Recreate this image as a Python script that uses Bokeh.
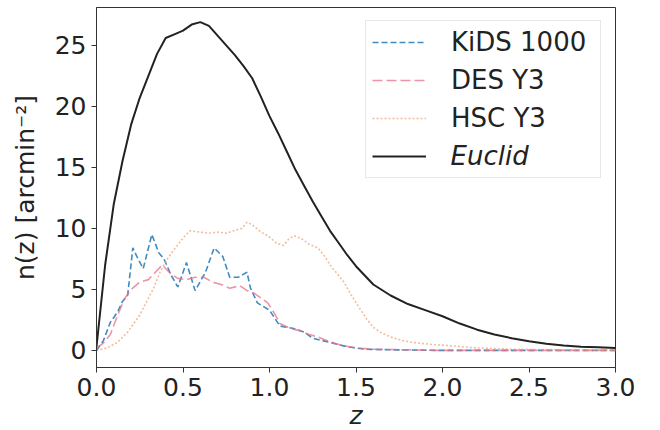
from bokeh.plotting import figure
from bokeh.models import Range1d, Legend, LegendItem, FixedTicker, PrintfTickFormatter, Label
from bokeh.embed import file_html
from bokeh.resources import INLINE

# ---- data ----
z_kids = [0.0, 0.04, 0.08, 0.12, 0.15, 0.18, 0.21, 0.24, 0.27, 0.32, 0.36, 0.39, 0.43, 0.47,
          0.52, 0.57, 0.63, 0.68, 0.73, 0.77, 0.82, 0.87, 0.89, 0.93, 1.0, 1.06, 1.14, 1.2,
          1.25, 1.35, 1.45, 1.55, 1.7, 2.0, 3.0]
n_kids = [0.0, 0.8, 2.3, 3.1, 4.0, 4.5, 8.4, 7.5, 6.7, 9.5, 8.0, 7.5, 6.2, 5.2,
          7.2, 4.9, 6.4, 8.4, 7.7, 6.0, 6.0, 6.4, 5.1, 3.9, 3.3, 2.0, 1.8, 1.5,
          1.0, 0.65, 0.3, 0.1, 0.05, 0.0, 0.0]

z_des = [0.0, 0.04, 0.08, 0.12, 0.16, 0.2, 0.25, 0.3, 0.34, 0.38, 0.42, 0.47, 0.52, 0.57,
         0.62, 0.67, 0.72, 0.77, 0.83, 0.87, 0.91, 0.95, 0.99, 1.03, 1.06, 1.12, 1.18, 1.23,
         1.28, 1.35, 1.42, 1.5, 1.6, 1.8, 2.0, 3.0]
n_des = [0.2, 0.6, 1.3, 2.8, 4.2, 5.0, 5.6, 5.8, 6.4, 7.0, 6.4, 5.9, 5.8, 6.0,
         6.0, 5.6, 5.4, 5.1, 5.3, 4.9, 4.7, 4.3, 3.9, 3.0, 2.2, 1.8, 1.6, 1.3,
         1.1, 0.7, 0.4, 0.2, 0.1, 0.05, 0.0, 0.0]

z_hsc = [0.0, 0.06, 0.12, 0.18, 0.25, 0.29, 0.33, 0.37, 0.41, 0.45, 0.5, 0.54, 0.6, 0.65,
         0.7, 0.75, 0.79, 0.84, 0.87, 0.9, 0.95, 0.99, 1.04, 1.08, 1.11, 1.14, 1.18, 1.23,
         1.28, 1.32, 1.35, 1.39, 1.43, 1.47, 1.51, 1.56, 1.6, 1.64, 1.7, 1.77, 1.83, 1.93,
         2.03, 2.2, 2.4, 2.7, 3.0]
n_hsc = [0.0, 0.2, 0.65, 1.5, 2.9, 4.0, 5.1, 6.5, 7.5, 8.3, 9.2, 9.8, 9.7, 9.6,
         9.7, 9.6, 9.8, 10.0, 10.5, 10.3, 9.7, 9.4, 8.8, 8.6, 9.1, 9.4, 9.2, 8.7,
         8.4, 7.7, 7.0, 6.3, 5.6, 4.6, 3.7, 2.6, 1.9, 1.5, 1.1, 0.8, 0.65, 0.5,
         0.4, 0.2, 0.1, 0.05, 0.0]

z_euclid = [0.0, 0.05, 0.1, 0.15, 0.2, 0.25, 0.3, 0.35, 0.4, 0.45, 0.5, 0.55, 0.6, 0.65,
            0.7, 0.75, 0.8, 0.85, 0.9, 0.95, 1.0, 1.05, 1.1, 1.15, 1.2, 1.25, 1.3, 1.35,
            1.4, 1.45, 1.5, 1.6, 1.7, 1.8, 1.9, 2.0, 2.1, 2.2, 2.3, 2.4, 2.5, 2.6, 2.7,
            2.8, 2.9, 3.0]
n_euclid = [0.3, 7.0, 12.0, 15.5, 18.5, 20.7, 22.5, 24.3, 25.6, 25.9, 26.2, 26.7, 26.9, 26.6,
            25.8, 25.0, 24.2, 23.3, 22.3, 20.8, 19.2, 17.8, 16.3, 14.8, 13.5, 12.2, 11.0, 9.8,
            8.8, 7.8, 6.9, 5.4, 4.5, 3.8, 3.3, 2.8, 2.2, 1.7, 1.3, 1.0, 0.75, 0.55, 0.4,
            0.3, 0.25, 0.2]

labels = ["KiDS 1000", "DES Y3", "HSC Y3", "Euclid"]
x_ticks = [0.0, 0.5, 1.0, 1.5, 2.0, 2.5, 3.0]
y_ticks = [0, 5, 10, 15, 20, 25]

FONT = "DejaVu Sans"

p = figure(frame_width=519, frame_height=360, output_backend="svg", toolbar_location=None,
           x_range=Range1d(0, 3.0), y_range=Range1d(-1.4, 28.1),
           min_border_left=96, min_border_right=45, min_border_top=7, min_border_bottom=63)
p.background_fill_color = "white"
p.border_fill_color = "white"
p.outline_line_color = "#333333"
p.outline_line_width = 1
p.xgrid.visible = False
p.ygrid.visible = False

r_kids = p.line(z_kids, n_kids, line_color="#1f77b4", line_width=1.6, line_dash="6 3", line_alpha=0.85)
r_des = p.line(z_des, n_des, line_color="#e8708a", line_width=1.6, line_dash="10 4", line_alpha=0.75)
r_hsc = p.line(z_hsc, n_hsc, line_color="#f0a070", line_width=1.6, line_dash="2 2", line_alpha=0.7)
r_euc = p.line(z_euclid, n_euclid, line_color="#222222", line_width=2.0)

for ax in (p.xaxis[0], p.yaxis[0]):
    ax.major_label_text_font = FONT
    ax.major_label_text_font_size = "25px"
    ax.major_label_text_color = "#222222"
    ax.axis_label_text_font = FONT
    ax.axis_label_text_font_size = "25px"
    ax.axis_label_text_color = "#222222"
    ax.axis_label_text_font_style = "normal"
    ax.minor_tick_line_color = None
    ax.major_tick_out = 5
    ax.major_tick_in = 0
    ax.major_tick_line_color = "#333333"
    ax.axis_line_color = "#333333"
    ax.major_label_standoff = 5

p.xaxis[0].ticker = FixedTicker(ticks=x_ticks)
p.xaxis[0].formatter = PrintfTickFormatter(format="%.1f")
p.yaxis[0].ticker = FixedTicker(ticks=y_ticks)
p.xaxis[0].axis_label = "z"
p.xaxis[0].axis_label_text_font_style = "italic"
p.xaxis[0].axis_label_standoff = 2
p.yaxis[0].axis_label = "n(z) [arcmin⁻²]"
p.yaxis[0].axis_label_standoff = 12

# legend box; the last row's label is drawn in italic by a Label overlay
legend = Legend(items=[LegendItem(label=labels[0], renderers=[r_kids]),
                       LegendItem(label=labels[1], renderers=[r_des]),
                       LegendItem(label=labels[2], renderers=[r_hsc]),
                       LegendItem(label=" ", renderers=[r_euc])],
                location=(269, 189))
legend.margin = 0
legend.padding = 6
legend.spacing = 8
legend.glyph_width = 54
legend.glyph_height = 30
legend.label_height = 30
legend.label_standoff = 25
legend.label_width = 143
legend.label_text_font = FONT
legend.label_text_font_size = "26px"
legend.label_text_color = "#222222"
legend.border_line_color = "#d0d0d0"
legend.border_line_width = 1
legend.background_fill_color = None
p.add_layout(legend)

euclid_label = Label(x=354, y=212, x_units="screen", y_units="screen", text=labels[3],
                     text_font=FONT, text_font_size="26px", text_font_style="italic",
                     text_color="#222222", text_baseline="middle", text_align="left",
                     level="overlay")
p.add_layout(euclid_label)

open("out.html", "w").write(file_html(p, INLINE))
